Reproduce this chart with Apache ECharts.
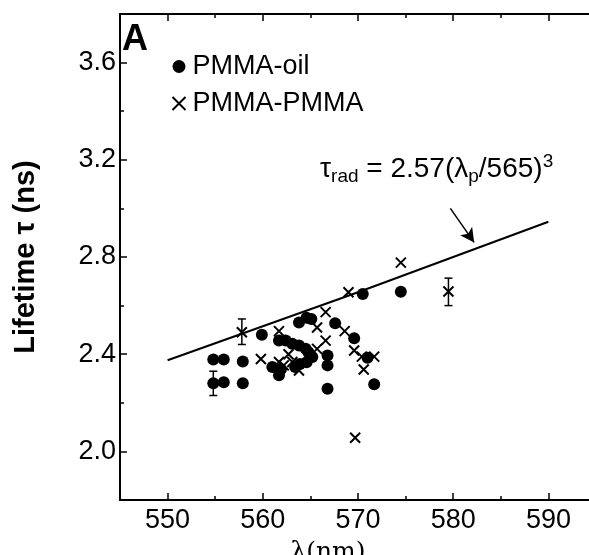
<!DOCTYPE html>
<html>
<head>
<meta charset="utf-8">
<script src="https://cdn.jsdelivr.net/npm/echarts@6/dist/echarts.min.js"></script>
<style>
  html, body { margin: 0; padding: 0; background: #fff; }
  #chart { width: 589px; height: 555px; }
</style>
</head>
<body>
<div id="chart"></div>
<script>
// PMMA-oil (filled circles)
var oilX = [554.8, 555.9, 554.8, 555.9, 557.9, 557.9, 559.9,
  561.7, 562.4, 563.1, 563.8, 564.5, 564.8, 565.2, 564.6, 563.9, 563.4, 561.7, 561.0, 561.9,
  563.8, 564.6, 565.1, 567.6, 569.6, 566.8, 566.8, 566.8, 571.0, 571.7, 570.5, 574.5]
var oilY = [2.378, 2.378, 2.28, 2.285, 2.37, 2.28, 2.48,
  2.456, 2.456, 2.443, 2.436, 2.422, 2.408, 2.388, 2.367, 2.36, 2.347, 2.313, 2.347, 2.338,
  2.53, 2.55, 2.545, 2.527, 2.466, 2.395, 2.354, 2.258, 2.385, 2.276, 2.648, 2.657]

// PMMA-PMMA (crosses)
var pmmaX = [557.8, 559.8, 561.7, 561.7, 562.7, 562.2, 563.1, 563.8,
  565.7, 566.6, 565.7, 566.6, 568.6, 569.6, 570.4, 571.7, 570.6, 569.7, 569.0, 574.5, 579.5]
var pmmaY = [2.49, 2.38, 2.495, 2.368, 2.40, 2.354, 2.368, 2.333,
  2.51, 2.573, 2.422, 2.456, 2.495, 2.415, 2.39, 2.39, 2.337, 2.056, 2.655, 2.777, 2.658]

// error bars
var errX = [554.8, 557.8, 579.5]
var errLow = [2.23, 2.44, 2.60]
var errHigh = [2.33, 2.545, 2.713]

// tau_rad curve
var fitX = [550, 570, 590]
var fitY = [2.375, 2.655, 2.945]

// arrow from label to curve
var arrowFrom = [579.7, 3.0]
var arrowTo = [582.2, 2.86]

var xTicks = [550, 560, 570, 580, 590]
var xMinor = [555, 565, 575, 585]
var yTicks = [2.0, 2.4, 2.8, 3.2, 3.6]
var yMinor = [2.2, 2.6, 3.0, 3.4]

var FONT = 'Liberation Sans, Arial, sans-serif'

function pairs(xs, ys) {
  return xs.map(function (x, i) { return [x, ys[i]] })
}

function xAxisDef(pos, ticks, len, withLine, withLabels) {
  return {
    type: 'value', position: pos, min: 545, max: 595,
    axisLine: { show: withLine, onZero: false, lineStyle: { color: '#000', width: 2 } },
    axisTick: { show: true, inside: true, length: len, customValues: ticks, lineStyle: { color: '#000', width: 1.5 } },
    axisLabel: { show: withLabels, customValues: ticks, color: '#000', fontSize: 27, fontFamily: FONT, margin: 7 },
    splitLine: { show: false }
  }
}
function yAxisDef(pos, ticks, len, withLine, withLabels) {
  return {
    type: 'value', position: pos, min: 1.8, max: 3.8,
    axisLine: { show: withLine, onZero: false, lineStyle: { color: '#000', width: 2 } },
    axisTick: { show: true, inside: true, length: len, customValues: ticks, lineStyle: { color: '#000', width: 1.5 } },
    axisLabel: {
      show: withLabels, customValues: ticks, color: '#000', fontSize: 27, fontFamily: FONT, margin: 4,
      formatter: function (v) { return v.toFixed(1) }
    },
    splitLine: { show: false }
  }
}

var xMain = xAxisDef('bottom', xTicks, 7, true, true)
xMain.name = 'λ(nm)'
xMain.nameLocation = 'middle'
xMain.nameGap = 40
xMain.nameTextStyle = { color: '#000', fontSize: 25, fontFamily: 'DejaVu Serif', padding: [0, 60, 0, 0] }

var yMain = yAxisDef('left', yTicks, 7, true, true)
yMain.name = 'Lifetime τ (ns)'
yMain.nameLocation = 'middle'
yMain.nameGap = 80
yMain.nameTextStyle = { color: '#000', fontSize: 29, fontFamily: FONT, fontWeight: 'bold' }

var chart = echarts.init(document.getElementById('chart'))
chart.setOption({
  backgroundColor: '#fff',
  animation: false,
  grid: { left: 120, top: 14, width: 476, height: 486, outerBoundsMode: 'none', containLabel: false },
  legend: {
    data: ['PMMA-oil', 'PMMA-PMMA'],
    orient: 'vertical', left: 165, top: 48, itemGap: 10,
    itemWidth: 13, itemHeight: 13,
    textStyle: { color: '#000', fontSize: 27, fontFamily: FONT, padding: [0, 0, 0, 2] }
  },
  xAxis: [
    xMain,
    xAxisDef('bottom', xMinor, 4, false, false),
    xAxisDef('top', xTicks, 7, true, false),
    xAxisDef('top', xMinor, 4, false, false)
  ],
  yAxis: [
    yMain,
    yAxisDef('left', yMinor, 4, false, false),
    yAxisDef('right', yTicks, 7, true, false),
    yAxisDef('right', yMinor, 4, false, false)
  ],
  graphic: [
    { type: 'text', left: 122, top: 22, style: { text: 'A', fill: '#000', font: 'bold 36px ' + FONT } },
    {
      type: 'text', left: 320, top: 152,
      style: {
        text: '{m|τ}{s|rad}{m| = 2.57(λ}{s|p}{m|/565)}{u|3}',
        fill: '#000',
        rich: {
          m: { fontSize: 28, fontFamily: FONT, color: '#000', lineHeight: 34 },
          s: { fontSize: 19, fontFamily: FONT, color: '#000', verticalAlign: 'bottom', lineHeight: 26, padding: [12, 0, 0, 0] },
          u: { fontSize: 19, fontFamily: FONT, color: '#000', verticalAlign: 'top', lineHeight: 20, padding: [0, 0, 12, 0] }
        }
      }
    }
  ],
  series: [
    {
      name: 'fit', type: 'line', data: pairs(fitX, fitY), showSymbol: false, smooth: true,
      lineStyle: { color: '#000', width: 2 }, z: 1,
      markLine: {
        silent: true, symbol: ['none', 'arrow'], symbolSize: [11, 14],
        label: { show: false },
        lineStyle: { color: '#000', width: 1.5, type: 'solid' },
        data: [[{ coord: arrowFrom }, { coord: arrowTo }]]
      }
    },
    {
      name: 'PMMA-oil', type: 'scatter', data: pairs(oilX, oilY),
      symbol: 'circle', symbolSize: 12, itemStyle: { color: '#000', opacity: 1 }, z: 3
    },
    {
      name: 'PMMA-PMMA', type: 'scatter', data: pairs(pmmaX, pmmaY),
      symbol: 'path://M0,0L10,10M10,0L0,10', symbolSize: 10,
      itemStyle: { color: 'none', borderColor: '#000', borderWidth: 2, opacity: 1 }, z: 4
    },
    {
      name: 'err', type: 'custom', z: 5,
      data: errX.map(function (x, i) { return [x, errLow[i], errHigh[i]] }),
      renderItem: function (params, api) {
        var lo = api.coord([api.value(0), api.value(1)])
        var hi = api.coord([api.value(0), api.value(2)])
        var w = 4
        var st = { stroke: '#000', lineWidth: 1.5 }
        return {
          type: 'group', children: [
            { type: 'line', shape: { x1: lo[0], y1: lo[1], x2: hi[0], y2: hi[1] }, style: st },
            { type: 'line', shape: { x1: lo[0] - w, y1: lo[1], x2: lo[0] + w, y2: lo[1] }, style: st },
            { type: 'line', shape: { x1: hi[0] - w, y1: hi[1], x2: hi[0] + w, y2: hi[1] }, style: st }
          ]
        }
      }
    }
  ]
})
</script>
</body>
</html>
